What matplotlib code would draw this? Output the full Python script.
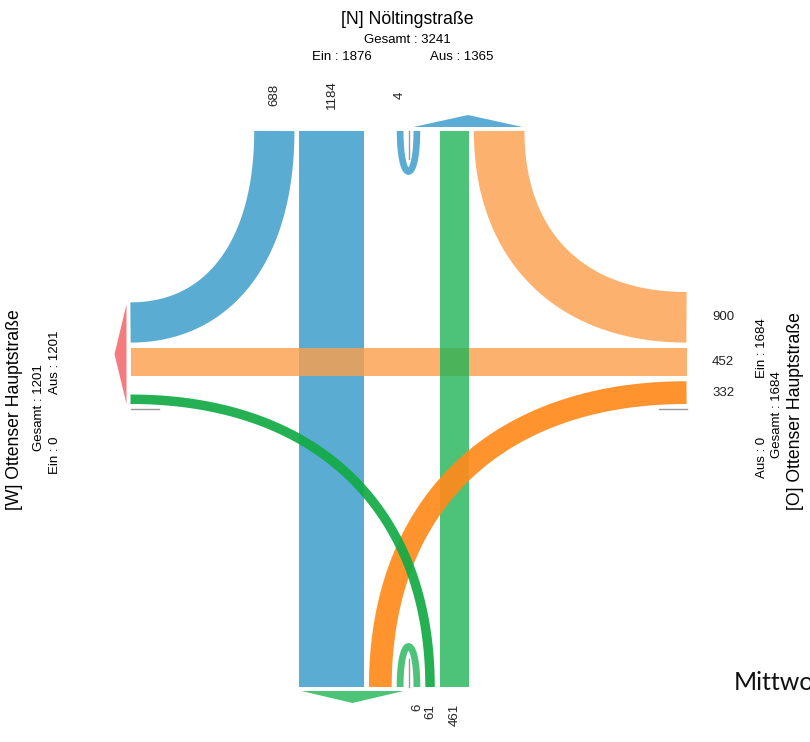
import numpy as np
import matplotlib
matplotlib.use("Agg")
import matplotlib.pyplot as plt

plt.rcParams["font.family"] = ["Liberation Sans", "DejaVu Sans"]

# arms in clockwise order (O = Ost)
ARMS = ["N", "O", "S", "W"]
ARM_NAMES = {"N": "[N] Nöltingstraße", "O": "[O] Ottenser Hauptstraße", "W": "[W] Ottenser Hauptstraße"}

# turning movements (vehicles)
FLOW_FROM = ["N", "N", "N", "O", "O", "O", "S", "S", "S"]
FLOW_TO = ["W", "S", "N", "N", "W", "S", "S", "W", "N"]
FLOW_VALUE = [688, 1184, 4, 900, 452, 332, 6, 61, 461]

FOOTNOTE = "Mittwo"

# layout (pixels, y downwards)
X_MED, Y_MED, HALF = 408.5, 409.0, 278.0
GAP = 5.0
BEND = 0.62
UT_DEPTH = 54.0

ALPHA = 0.8
FLOW_COLORS = {"N": "#3197C9", "O": "#FC9F4A", "S": "#1FB556", "W": "#F26468"}
# left turns are drawn darker and almost opaque
LEFT_COLORS = {"N": "#1F78B4", "O": "#FF8A1C", "S": "#12AA45", "W": "#D7262B"}
LEFT_ALPHA = 0.92
ARROW_COLORS = {"N": "#5AACD4", "O": "#FDB26E", "S": "#4CC478", "W": "#F47C7E"}

INWARD = {"N": np.array([0.0, 1.0]), "O": np.array([-1.0, 0.0]), "S": np.array([0.0, -1.0]), "W": np.array([1.0, 0.0])}
MID = {
    "N": np.array([X_MED, Y_MED - HALF]),
    "O": np.array([X_MED + HALF, Y_MED]),
    "S": np.array([X_MED, Y_MED + HALF]),
    "W": np.array([X_MED - HALF, Y_MED]),
}
LABELS = {
    "N": dict(title=(407.5, 20), total=(407.5, 40), ein=(341.7, 57), aus=(461.7, 57), rot=0),
    "W": dict(title=(15, 410), total=(39, 408), ein=(55, 455), aus=(55, 362), rot=90),
    "O": dict(title=(795, 411), total=(777, 415), ein=(762, 348), aus=(762, 457), rot=90),
}
LANE_LABEL = {"N": (36, 90, "center", "center"), "O": (25.5, 0, "left", "center"),
              "S": (17, 90, "center", "top"), "W": (25, 0, "right", "center")}


def width(v):
    return 6.5 + 0.049 * v


def lat(a):
    ix, iy = INWARD[a]
    return np.array([-iy, ix])


def nb(a, step):
    return ARMS[(ARMS.index(a) + step) % 4]


def pack(vals, straight_at=None):
    pos = [None] * 4
    d = GAP
    if vals[0] > 0:
        d = width(vals[0]) + 2 * GAP
    for k in (1, 2, 3):
        if vals[k] <= 0:
            continue
        if k == 2 and straight_at is not None:
            d = max(d, straight_at)
        pos[k] = d
        d += width(vals[k]) + GAP
    return pos


def cubic(p0, p1, p2, p3, n=120):
    t = np.linspace(0, 1, n)[:, None]
    return (1 - t) ** 3 * p0 + 3 * (1 - t) ** 2 * t * p1 + 3 * (1 - t) * t ** 2 * p2 + t ** 3 * p3


def band(pts, w):
    d = np.gradient(pts, axis=0)
    d /= np.linalg.norm(d, axis=1)[:, None]
    n = np.column_stack([-d[:, 1], d[:, 0]])
    return np.vstack([pts + n * w / 2, (pts - n * w / 2)[::-1]])


flows = {(a, b): v for a, b, v in zip(FLOW_FROM, FLOW_TO, FLOW_VALUE)}
ein = {a: sum(v for (f, t), v in flows.items() if f == a) for a in ARMS}
aus = {a: sum(v for (f, t), v in flows.items() if t == a) for a in ARMS}

ENTER_STEPS = (0, 1, 2, -1)
EXIT_STEPS = (0, -1, 2, 1)
enter_vals = {a: [flows.get((a, nb(a, s)), 0) for s in ENTER_STEPS] for a in ARMS}
exit_vals = {b: [flows.get((nb(b, s), b), 0) for s in EXIT_STEPS] for b in ARMS}

first_in = {a: pack(enter_vals[a]) for a in ARMS}
first_out = {b: pack(exit_vals[b]) for b in ARMS}
straight_at = {}
for a in ARMS:
    b = nb(a, 2)
    if flows.get((a, b), 0) > 0:
        straight_at[a] = max(first_in[a][2], first_out[b][2])
enter_pos = {a: pack(enter_vals[a], straight_at.get(a)) for a in ARMS}
exit_pos = {b: pack(exit_vals[b], straight_at.get(nb(b, 2))) for b in ARMS}

fig = plt.figure(figsize=(8.1, 7.42), dpi=100)
ax = fig.add_axes([0, 0, 1, 1])
ax.set_xlim(0, 810)
ax.set_ylim(742, 0)
ax.axis("off")

# median ticks
for a in ARMS:
    p, q = MID[a], MID[a] + INWARD[a] * 28
    ax.plot([p[0], q[0]], [p[1], q[1]], color="#9A9A9A", lw=1.0, zorder=1)

straights, turns, uturns = [], [], []
for (a, b), v in flows.items():
    if v <= 0:
        continue
    w = width(v)
    is_left = b == nb(a, 1)
    color = LEFT_COLORS[a] if is_left else FLOW_COLORS[a]
    alpha = LEFT_ALPHA if is_left else ALPHA
    if a == b:
        off = w / 2 + GAP
        p0 = MID[a] + lat(a) * off
        p3 = MID[a] - lat(a) * off
        pts = cubic(p0, p0 + INWARD[a] * UT_DEPTH, p3 + INWARD[a] * UT_DEPTH, p3)
        uturns.append((pts, w, color, alpha))
        label_off = off
    else:
        d_in = enter_pos[a][ENTER_STEPS.index([s for s in ENTER_STEPS if nb(a, s) == b][0])]
        d_out = exit_pos[b][EXIT_STEPS.index([s for s in EXIT_STEPS if nb(b, s) == a][0])]
        p0 = MID[a] + lat(a) * (d_in + w / 2)
        p3 = MID[b] - lat(b) * (d_out + w / 2)
        label_off = d_in + w / 2
        if b == nb(a, 2):
            straights.append((np.array([p0, p3]), w, color, alpha))
        else:
            corner = np.array([p0[0], p3[1]]) if INWARD[a][0] == 0 else np.array([p3[0], p0[1]])
            pts = cubic(p0, p0 + BEND * (corner - p0), p3 + BEND * (corner - p3), p3)
            turns.append((pts, w, color, alpha))
    dist, rot, ha, va = LANE_LABEL[a]
    tp = MID[a] + lat(a) * label_off - INWARD[a] * dist
    ax.text(tp[0], tp[1], str(v), rotation=rot, ha=ha, va=va, fontsize=9.5, color="#222222")

for pts, w, color, alpha in straights + turns:
    poly = band(pts, w)
    ax.fill(poly[:, 0], poly[:, 1], color=color, alpha=alpha, lw=0, zorder=2)
for pts, w, color, alpha in uturns:
    ax.plot(pts[:, 0], pts[:, 1], color=color, alpha=alpha, lw=w * 0.72,
            solid_capstyle="butt", solid_joinstyle="round", zorder=2)

# exit arrows
for b in ARMS:
    if aus[b] <= 0:
        continue
    outer = max(d + width(v) for d, v in zip(exit_pos[b], exit_vals[b]) if d is not None)
    s0, s1 = 5.0, outer - 2
    base = MID[b] - INWARD[b] * 4
    tip = MID[b] - INWARD[b] * 16 - lat(b) * (s0 + s1) / 2
    q0 = base - lat(b) * s0
    q1 = base - lat(b) * s1
    ax.fill([q0[0], tip[0], q1[0]], [q0[1], tip[1], q1[1]], color=ARROW_COLORS[b], lw=0, zorder=3)

# arm labels
for a, lay in LABELS.items():
    rot = lay["rot"]
    ax.text(*lay["title"], ARM_NAMES[a], fontsize=12.7, rotation=rot, ha="center", va="center")
    ax.text(*lay["total"], "Gesamt : {}".format(ein[a] + aus[a]), fontsize=9.5, rotation=rot, ha="center", va="center")
    ax.text(*lay["ein"], "Ein : {}".format(ein[a]), fontsize=9.5, rotation=rot, ha="center", va="center")
    ax.text(*lay["aus"], "Aus : {}".format(aus[a]), fontsize=9.5, rotation=rot, ha="center", va="center")

ax.text(734, 682, FOOTNOTE, fontsize=18, family=["Lato", "DejaVu Sans"],
        ha="left", va="center", color="#111111")

fig.savefig("out.png", dpi=100)
